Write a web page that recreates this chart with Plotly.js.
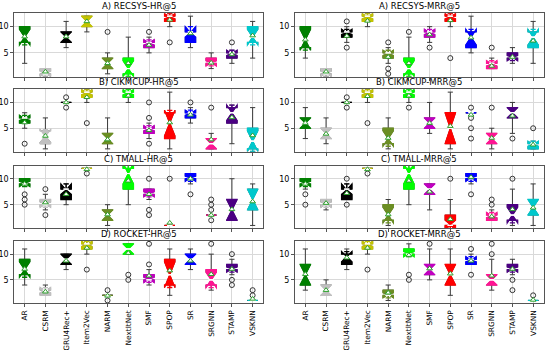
<!DOCTYPE html>
<html><head><meta charset="utf-8">
<script src="https://cdn.plot.ly/plotly-3.0.1.min.js"></script>
<style>html,body{margin:0;padding:0;background:#fff}#chart{width:550px;height:350px}</style>
</head><body><div id="chart"></div>
<script>
const categories = ['AR','CSRM','GRU4Rec+','Item2Vec','NARM','NextItNet','SMF','SPOP','SR','SRGNN','STAMP','VSKNN'];
const panelTitles = ['A) RECSYS-HR@5','A) RECSYS-MRR@5','B) CIKMCUP-HR@5','B) CIKMCUP-MRR@5','C) TMALL-HR@5','C) TMALL-MRR@5','D) ROCKET-HR@5','D) ROCKET-MRR@5'];
const yTicks = [5, 10];
const sampleSize = 10;

const q1 = [
 [7,1,7,10,2,1,6,11,7,3,4,7],
 [6,1,8,11,4,1,8,11,6,2,4,6],
 [6,2,10,11,2,11,4,3,7,1,6,1],
 [5,3,10,11,2,11,5,2,8,2,7,1],
 [9,5,6,12,2,8,7,1,10,3,2,4],
 [9,5,6,12,2,8,7,1,10,2,2,3],
 [6,2,8,11,2,10,5,4,8,4,7,1],
 [4,2,8,11,2,10,6,4,8,4,7,1]
];
const median = [
 [8,1,8,11,3,2,7,12,9,3,5,8],
 [7.5,1,9,12,5,2,9,12,8,3,4,8],
 [7,3.5,10,12,3,12,5,6,8,2,8,2.5],
 [6,4,10,12,3,12,6,5,8,3,8,2],
 [9,5,8,12,3,11,7,1,10,3,4,6],
 [9,5,8,12,3,11,8,1,10,3,3,4.5],
 [7,3,9,12,2,11,5,6,9,5,7,1],
 [6,3,9.5,12,2,10,7,6,9,5,7,1]
];
const q3 = [
 [10,2,9,12,4,4,7,12,9,4,5,10],
 [10,2,9,12,5,4,9,12,9,3,5,9],
 [7,4.5,10,12,4,12,5,8,8,3,9,5],
 [7,5,10,12,5,12,7,8,8,4,9,2],
 [10,6,8,12,4,12,8,1,11,3,6,8],
 [10,6,8,12,5,12,9,3,11,3,5,6],
 [9,3,10,12,2,12,6,9,10,7,8,1],
 [8,4,10,12,3,11,8,8,9,6,8,1]
];
const lowerWhisker = [
 [3,1,6,9,1,1,5,10,6,2,3,4],
 [4,1,7,10,3,1,7,10,5,2,3,3],
 [5,1,10,10,1,10,3,1,6,1,2,1],
 [3,2,10,10,1,10,4,1,8,1,4,1],
 [9,4,5,12,1,5,6,1,9,3,2,1],
 [8,4,6,12,1,5,4,1,9,2,1,1],
 [4,2,7,10,2,10,4,2,7,3,6,1],
 [3,2,7,10,1,10,5,2,8,3,6,1]
];
const upperWhisker = [
 [10,2,11,12,5,8,8,12,12,5,5,11],
 [10,2,10,12,6,8,10,12,12,4,6,11],
 [8,7,10,12,7,12,6,12,9,4,9,9],
 [9,7,10,12,7,12,10,12,8,5,10,2],
 [10,7,9,12,5,12,8,1,11,3,10,9],
 [10,6,9,12,6,12,9,6,11,4,8,9],
 [11,4,10,12,2,12,7,11,11,10,9,1],
 [11,5,11,12,4,12,11,11,10,9,9,1]
];
const means = [
 [8.1,1.4,8.1,11.0,3.0,3.0,6.5,11.3,8.7,3.1,4.7,8.3],
 [7.5,1.4,8.2,11.1,4.2,3.0,8.5,11.2,7.9,2.5,4.2,7.3],
 [6.1,3.5,10,11.0,2.8,11.3,4.6,6.1,7.6,2.8,7.1,3.6],
 [6.0,3.9,10,11.2,3.1,11.3,6.0,5.4,7.6,3.1,7.4,1.8],
 [9.0,5.4,7.0,11.8,3.1,9.6,7.0,1.5,10.0,3.0,4.1,5.6],
 [9.0,5.3,7.2,11.8,3.1,9.6,7.5,2.2,10.3,2.7,4.1,4.4],
 [7.1,2.7,8.7,11.2,1.9,10.2,5.8,6.8,8.7,6.1,7.1,1.3],
 [6.1,3.0,9.3,11.2,2.5,9.8,7.2,6.2,8.7,5.8,7.1,1.1]
];
const outliers = [
 [[],[],[],[],[9],[],[9],[7],[],[],[7],[]],
 [[],[],[11,6],[],[7,2,1],[9],[6],[4],[],[6],[],[]],
 [[2],[],[11,9],[6],[],[],[10,7,2],[],[10],[9],[],[]],
 [[],[],[11,9],[6],[],[9],[],[],[9,7,5,3],[9],[3],[5]],
 [[7,6,5],[8,3],[],[11],[],[],[10,4,3],[10],[7],[6,5,4,2],[],[]],
 [[7,5],[],[10,5],[11],[],[],[],[10],[7],[6,5],[10],[]],
 [[],[],[],[7],[3,1],[6,5],[8,12],[],[],[12],[10,5,4],[3,2]],
 [[],[],[],[7],[],[6,5],[12],[],[11,6],[12,10],[5,3],[2]]
];

const colors = ['#008000','#c0c0c0','#000000','#c4c400','#6b8e23','#00ff00','#c000c0','#ff0000','#0000ff','#ff1493','#4b0082','#00c8cc'];

const W = 550, H = 350;
const colPx = [[14.3, 263], [295, 543.5]];
const rowPx = [[13.3, 76.7], [89.3, 151.7], [165.5, 228.3], [241, 303.3]];
const FONT = 'DejaVu Sans, sans-serif';

const data = [];
const layout = {
  width: W, height: H, margin: {l:0, r:0, t:0, b:0},
  paper_bgcolor: '#fff', plot_bgcolor: '#fff',
  showlegend: false, boxmode: 'overlay', annotations: [],
  font: {family: FONT, size: 8, color: '#000'}
};

for (let p = 0; p < 8; p++) {
  const r = Math.floor(p / 2), c = p % 2;
  const sfx = p === 0 ? '' : String(p + 1);
  const xa = 'x' + sfx, ya = 'y' + sfx;
  layout['xaxis' + sfx] = {
    domain: [colPx[c][0] / W, colPx[c][1] / W], anchor: ya,
    type: 'category', categoryorder: 'array', categoryarray: categories,
    range: [-0.5, 11.5], showgrid: true, gridcolor: '#d9d9d9', gridwidth: 1,
    showline: true, mirror: true, linecolor: '#555', linewidth: 1,
    ticks: 'outside', ticklen: 3, tickcolor: '#555',
    showticklabels: r === 3, tickangle: -90,
    tickfont: {family: FONT, size: 7.4, color: '#000'}, fixedrange: true
  };
  layout['yaxis' + sfx] = {
    domain: [1 - rowPx[r][1] / H, 1 - rowPx[r][0] / H], anchor: xa,
    range: [0.45, 12.55], tickvals: yTicks, ticktext: yTicks.map(String),
    showgrid: true, gridcolor: '#d9d9d9', gridwidth: 1, zeroline: false,
    showline: true, mirror: true, linecolor: '#555', linewidth: 1,
    ticks: 'outside', ticklen: 3, tickcolor: '#555',
    tickfont: {family: FONT, size: 8, color: '#000'}, fixedrange: true
  };
  layout.annotations.push({
    text: panelTitles[p], xref: 'paper', yref: 'paper',
    x: (colPx[c][0] + colPx[c][1]) / 2 / W, y: 1 - rowPx[r][0] / H,
    xanchor: 'center', yanchor: 'bottom', yshift: 0, showarrow: false,
    font: {family: FONT, size: 8.5, color: '#000'}
  });

  const ox = [], oy = [];
  for (let i = 0; i < categories.length; i++) {
    const cat = categories[i];
    const ns = 1.57 * (q3[p][i] - q1[p][i]) / Math.sqrt(sampleSize);
    data.push({
      type: 'box', xaxis: xa, yaxis: ya, x: [cat],
      q1: [q1[p][i]], median: [median[p][i]], q3: [q3[p][i]],
      lowerfence: [lowerWhisker[p][i]], upperfence: [upperWhisker[p][i]],
      notchspan: [ns], notched: true, notchwidth: 0.5,
      width: 0.5, whiskerwidth: 0.5, boxpoints: false,
      line: {color: '#3a3a3a', width: 1}, fillcolor: 'rgba(0,0,0,0)', hoverinfo: 'skip'
    });
    data.push({
      type: 'box', xaxis: xa, yaxis: ya, x: [cat],
      q1: [q1[p][i]], median: [median[p][i]], q3: [q3[p][i]],
      lowerfence: [q1[p][i]], upperfence: [q3[p][i]],
      notchspan: [ns], notched: true, notchwidth: 0.5,
      width: 0.5, whiskerwidth: 0.5, boxpoints: false,
      line: {color: colors[i], width: 1.3}, fillcolor: colors[i], hoverinfo: 'skip'
    });
    data.push({
      type: 'box', xaxis: xa, yaxis: ya, x: [cat],
      q1: [median[p][i]], median: [median[p][i]], q3: [median[p][i]],
      lowerfence: [median[p][i]], upperfence: [median[p][i]],
      notched: false, width: 0.25, whiskerwidth: 0, boxpoints: false,
      line: {color: '#ffffff', width: 1}, fillcolor: 'rgba(0,0,0,0)', hoverinfo: 'skip'
    });
    outliers[p][i].forEach(v => { ox.push(cat); oy.push(v); });
  }
  data.push({
    type: 'scatter', mode: 'markers', xaxis: xa, yaxis: ya, x: ox, y: oy,
    marker: {symbol: 'circle-open', size: 5, color: '#333', line: {width: 1, color: '#333'}},
    hoverinfo: 'skip', cliponaxis: false
  });
  data.push({
    type: 'scatter', mode: 'markers', xaxis: xa, yaxis: ya, x: categories, y: means[p],
    marker: {symbol: 'triangle-up', size: 5, color: '#ffffff', line: {width: 1, color: '#2ca02c'}},
    hoverinfo: 'skip'
  });
}

Plotly.newPlot('chart', data, layout, {displayModeBar: false, staticPlot: true});
</script>
</body></html>
